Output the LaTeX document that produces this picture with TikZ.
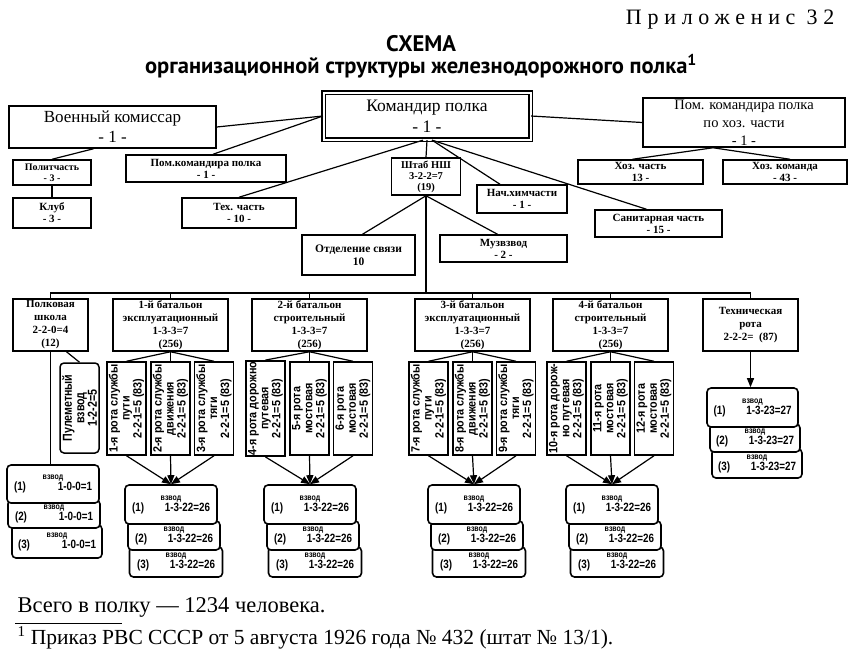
\documentclass[tikz,border=0pt]{standalone}
\usepackage{fontspec}
\setmainfont{Liberation Serif}
\newfontfamily\titlefont{PT Sans}
\newfontfamily\narrowfont[FakeStretch=0.82]{Liberation Sans}
\newfontfamily\rotafont[FakeStretch=0.9]{Liberation Sans}
\usetikzlibrary{arrows.meta,positioning}
\newcommand{\vzvod}[2]{{\narrowfont\bfseries\fontsize{8.5}{9}\selectfont взвод}\\[-1pt]{\narrowfont\bfseries\fontsize{12}{13}\selectfont\makebox[78pt]{#1\hfill #2}}}

\begin{document}
\begin{tikzpicture}[x=1pt,y=-1pt,
  box/.style={draw,line width=1.5pt,fill=white,align=center,inner sep=1pt,font=\fontsize{11}{12}\selectfont\bfseries},
  bigbox/.style={box,font=\fontsize{17}{20}\selectfont},
  rota/.style={box,rotate=90,minimum width=93pt,minimum height=39pt,font=\rotafont\fontsize{12}{12}\selectfont\bfseries},
  vzv/.style={draw,line width=1.6pt,rounded corners=4pt,fill=white,align=center,inner sep=1pt},
  link/.style={line width=1.2pt},
  arr/.style={link,-{Triangle[length=9pt,width=7pt]}}
]
\useasboundingbox (0,0) rectangle (850,649);
% titles
\node[anchor=east,font=\fontsize{22}{24}\selectfont\addfontfeature{LetterSpace=26}] (prilozh) at (838,20) {Приложенис 32};
\node[font=\titlefont\bfseries\fontsize{22.5}{25}\selectfont] (schema) at (421,44) {СХЕМА};
\node[font=\titlefont\bfseries\fontsize{22.5}{25}\selectfont] (subtitle) at (421,66) {организационной структуры железнодорожного полка\textsuperscript{1}};
% upper level
\node[bigbox,double,double distance=2pt,line width=1.3pt,minimum width=207pt,minimum height=47pt,font=\fontsize{17.5}{21}\selectfont] (komandir) at (427,116) {Командир полка\\- 1 -};
\node[bigbox,minimum width=207pt,minimum height=42pt] (voenkom) at (112.5,127) {Военный комиссар\\- 1 -};
\node[bigbox,minimum width=202pt,minimum height=49pt,font=\fontsize{14.5}{18}\selectfont] (pomhoz) at (744,122.5) {Пом. командира полка\\по хоз. части\\- 1 -};
\node[box,minimum width=78pt,minimum height=25pt,font=\fontsize{10}{11}\selectfont\bfseries] (polit) at (52,172.5) {Политчасть\\- 3 -};
\node[box,minimum width=78pt,minimum height=30pt] (klub) at (52,213) {Клуб\\- 3 -};
\node[box,minimum width=160pt,minimum height=27pt] (pomkom) at (206,168.5) {Пом.командира полка\\- 1 -};
\node[box,minimum width=114pt,minimum height=30pt] (tech) at (239,213) {Тех. часть\\- 10 -};
\node[box,minimum width=69pt,minimum height=37pt,font=\fontsize{10.5}{11}\selectfont\bfseries] (shtab) at (426,176.5) {Штаб НШ\\3-2-2=7\\(19)};
\node[box,minimum width=113pt,minimum height=40pt,font=\fontsize{11.5}{13}\selectfont\bfseries] (svyaz) at (358.5,255) {Отделение связи\\10};
\node[box,minimum width=90pt,minimum height=28pt] (himchast) at (522,199) {Нач.химчасти\\- 1 -};
\node[box,minimum width=127pt,minimum height=27pt] (sanchast) at (658.5,223.5) {Санитарная часть\\- 15 -};
\node[box,minimum width=127pt,minimum height=27pt] (muz) at (503.5,248.5) {Музвзвод\\- 2 -};
\node[box,minimum width=125pt,minimum height=24pt] (hozchast) at (640.5,172) {Хоз. часть\\13 -};
\node[box,minimum width=124pt,minimum height=24pt] (hozkom) at (785,172) {Хоз. команда\\- 43 -};
\draw[link] (voenkom.east) -- (komandir.west);
\draw[link] ([xshift=7pt]pomkom.north) -- (komandir.west);
\draw[link] (komandir.east) -- (pomhoz.west);
\draw[link] (polit.north) -- ([xshift=-19pt]voenkom.south);
\draw[link] (polit) -- (klub);
\draw[link] ([xshift=-4pt]komandir.south) -- (tech.north);
\draw[link] (komandir.south) -- (shtab.north);
\draw[link] ([xshift=5pt]komandir.south) -- ([xshift=-22pt]himchast.north);
\draw[link] ([xshift=5pt]komandir.south) -- ([xshift=-12pt]sanchast.north);
\draw[link] (shtab.south) -- ([xshift=4pt]svyaz.north);
\draw[link] (shtab.south) -- ([xshift=-6pt]muz.north);
\draw[link] ([xshift=-31pt]pomhoz.south) -- ([xshift=-8pt]hozchast.north);
\draw[link] ([xshift=-31pt]pomhoz.south) -- ([xshift=5pt]hozkom.north);
% battalions
\node[box,minimum width=75pt,minimum height=52pt,font=\fontsize{11}{13}\selectfont\bfseries] (shkola) at (50.5,325) {Полковая\\школа\\2-2-0=4\\(12)};
\node[box,minimum width=115pt,minimum height=52pt,font=\fontsize{11}{13}\selectfont\bfseries] (bat1) at (170.5,325) {1-й батальон\\эксплуатационный\\1-3-3=7\\(256)};
\node[box,minimum width=115pt,minimum height=52pt,font=\fontsize{11}{13}\selectfont\bfseries] (bat2) at (309.5,325) {2-й батальон\\строительный\\1-3-3=7\\(256)};
\node[box,minimum width=115pt,minimum height=52pt,font=\fontsize{11}{13}\selectfont\bfseries] (bat3) at (472.5,325) {3-й батальон\\эксплуатационный\\1-3-3=7\\(256)};
\node[box,minimum width=115pt,minimum height=52pt,font=\fontsize{11}{13}\selectfont\bfseries] (bat4) at (610.5,325) {4-й батальон\\строительный\\1-3-3=7\\(256)};
\node[box,minimum width=95pt,minimum height=52pt,font=\fontsize{11}{13}\selectfont\bfseries] (techrota) at (750.5,325) {Техническая\\рота\\2-2-2=~~(87)};
\coordinate (bus) at (426,293);
\draw[link] (shtab.south) -- (bus);
\foreach \n in {shkola,bat1,bat2,bat3,bat4,techrota}
  \draw[link] (bus) -| (\n.north);
% platoons
\foreach \b/\x in {1/171,2/310,3/474,4/612}{
  \node[vzv,minimum width=93pt,minimum height=30pt] (v\b-3) at (\x+5,562) {\vzvod{(3)}{1-3-22=26}};
  \node[vzv,minimum width=92pt,minimum height=29pt] (v\b-2) at (\x+3,535.5) {\vzvod{(2)}{1-3-22=26}};
  \node[vzv,minimum width=92pt,minimum height=39pt] (v\b-1) at (\x,504.5) {\vzvod{(1)}{1-3-22=26}};
}
\node[vzv,minimum width=90pt,minimum height=33pt] (sh-3) at (57,541.5) {\vzvod{(3)}{1-0-0=1}};
\node[vzv,minimum width=92pt,minimum height=28pt] (sh-2) at (54,514) {\vzvod{(2)}{1-0-0=1}};
\node[vzv,minimum width=92pt,minimum height=38pt] (sh-1) at (53,484) {\vzvod{(1)}{1-0-0=1}};
\node[vzv,minimum width=90pt,minimum height=29pt] (tr-3) at (757,463.5) {\vzvod{(3)}{1-3-23=27}};
\node[vzv,minimum width=90pt,minimum height=28pt] (tr-2) at (755,438) {\vzvod{(2)}{1-3-23=27}};
\node[vzv,minimum width=91pt,minimum height=39pt] (tr-1) at (752.5,407.5) {\vzvod{(1)}{1-3-23=27}};
\draw[link] (shkola.south) -- (shkola.south |- sh-1.north);
\draw[arr] (techrota.south) -- (techrota.south |- tr-1.north);
% companies
\node[rota,rounded corners=4pt,minimum width=90pt,font=\narrowfont\fontsize{13}{12.5}\selectfont\bfseries] (pulemet) at (79.5,408) {Пулеметный\\взвод\\1-2-2=5};
\draw[link] ([xshift=16pt]shkola.south) -- (pulemet.east);
\foreach \b/\x/\ta/\tb/\tc in {
  1/170.5/{1-я рота службы\\пути\\2-2-1=5 (83)}/{2-я рота службы\\движения\\2-2-1=5 (83)}/{3-я рота службы\\тяги\\2-2-1=5 (83)},
  2/309.5/{4-я рота дорожно\\путевая\\2-2-1=5 (83)}/{5-я рота\\мостовая\\2-2-1=5 (83)}/{6-я рота\\мостовая\\2-2-1=5 (83)},
  3/472.5/{7-я рота службы\\пути\\2-2-1=5 (83)}/{8-я рота службы\\движения\\2-2-1=5 (83)}/{9-я рота службы\\тяги\\2-2-1=5 (83)},
  4/610.5/{10-я рота дорож-\\но путевая\\2-2-1=5 (83)}/{11-я рота\\мостовая\\2-2-1=5 (83)}/{12-я рота\\мостовая\\2-2-1=5 (83)}}{
  \node[rota] (r\b-1) at (\x-44,408.5) {\ta};
  \node[rota] (r\b-2) at (\x,408.5) {\tb};
  \node[rota] (r\b-3) at (\x+43.5,408.5) {\tc};
  \foreach \k in {1,2,3}{
    \draw[link] (bat\b.south) -- (r\b-\k.east);
    \draw[arr] (r\b-\k.west) -- (v\b-1.north);
  }
}
% totals
\node[anchor=west,font=\fontsize{22.5}{24}\selectfont] (total) at (14,607) {Всего в полку~--- 1234 человека.};
\draw[line width=0.6pt] (15,623) -- (122,623);
\node[anchor=west,font=\fontsize{21.5}{23}\selectfont] (footnote) at (14,638) {\textsuperscript{1} Приказ РВС СССР от 5 августа 1926 года № 432 (штат № 13/1).};
\end{tikzpicture}
\end{document}
